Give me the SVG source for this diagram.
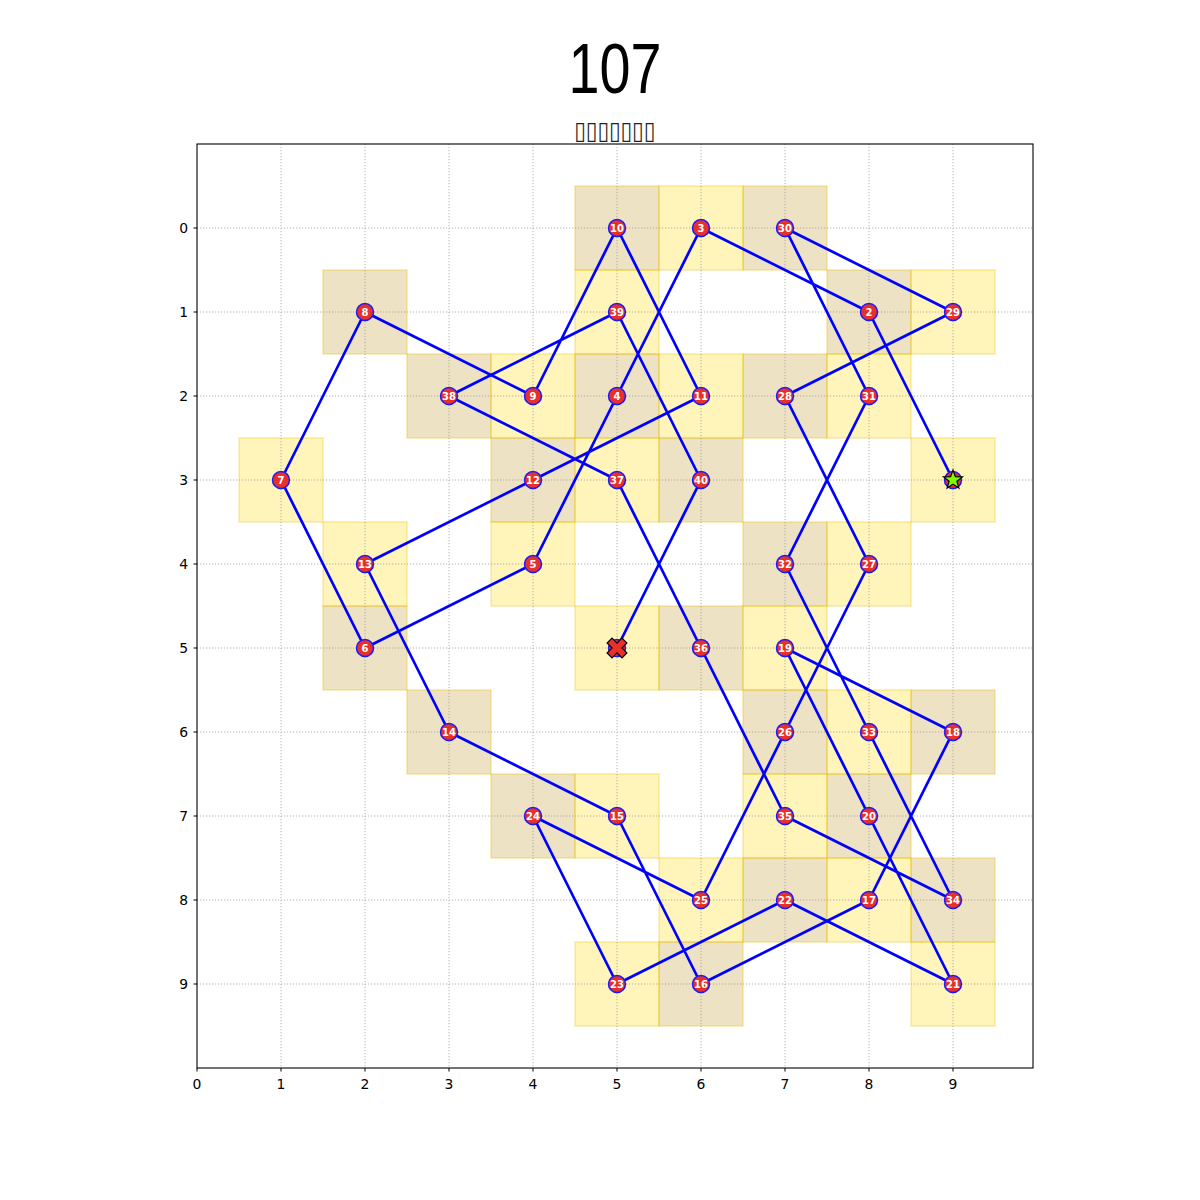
<svg xmlns="http://www.w3.org/2000/svg" width="1200" height="1200" viewBox="0 0 1200 1200">
<style>
.ey{fill:#FFD700;fill-opacity:0.27;stroke:#E8C000;stroke-opacity:0.3;stroke-width:1.5}
.od{fill:#B8860B;fill-opacity:0.24;stroke:#E8C000;stroke-opacity:0.35;stroke-width:1.5}
.grid line{stroke:#a0a0a0;stroke-width:0.8;stroke-dasharray:1.2,1.8}
.tick{stroke:#000;stroke-width:1}
.tl{font-family:"DejaVu Sans",sans-serif;font-size:13.9px;fill:#000}
.n circle{fill:#E8302A;stroke:#1a1aff;stroke-width:1.5}
.n text{font-family:"DejaVu Sans",sans-serif;font-weight:bold;font-size:10px;fill:#fff;text-anchor:middle}
.path{fill:none;stroke:#0000ff;stroke-width:2.7;stroke-linejoin:round}
</style>
<rect width="1200" height="1200" fill="#fff"/>
<text x="615" y="93" text-anchor="middle" font-family="'Liberation Sans Narrow','Liberation Sans',sans-serif" font-size="70" textLength="93" lengthAdjust="spacingAndGlyphs">107</text>
<text x="615" y="139" text-anchor="middle" font-family="'DejaVu Sans',sans-serif" font-size="25" fill="#222" textLength="81" lengthAdjust="spacingAndGlyphs">▯▯▯▯▯▯▯</text>
<g id="cells">
<rect class="od" x="575" y="186" width="84" height="84"/>
<rect class="ey" x="659" y="186" width="84" height="84"/>
<rect class="od" x="743" y="186" width="84" height="84"/>
<rect class="od" x="323" y="270" width="84" height="84"/>
<rect class="ey" x="575" y="270" width="84" height="84"/>
<rect class="od" x="827" y="270" width="84" height="84"/>
<rect class="ey" x="911" y="270" width="84" height="84"/>
<rect class="od" x="407" y="354" width="84" height="84"/>
<rect class="ey" x="491" y="354" width="84" height="84"/>
<rect class="od" x="575" y="354" width="84" height="84"/>
<rect class="ey" x="659" y="354" width="84" height="84"/>
<rect class="od" x="743" y="354" width="84" height="84"/>
<rect class="ey" x="827" y="354" width="84" height="84"/>
<rect class="ey" x="239" y="438" width="84" height="84"/>
<rect class="od" x="491" y="438" width="84" height="84"/>
<rect class="ey" x="575" y="438" width="84" height="84"/>
<rect class="od" x="659" y="438" width="84" height="84"/>
<rect class="ey" x="911" y="438" width="84" height="84"/>
<rect class="ey" x="323" y="522" width="84" height="84"/>
<rect class="ey" x="491" y="522" width="84" height="84"/>
<rect class="od" x="743" y="522" width="84" height="84"/>
<rect class="ey" x="827" y="522" width="84" height="84"/>
<rect class="od" x="323" y="606" width="84" height="84"/>
<rect class="ey" x="575" y="606" width="84" height="84"/>
<rect class="od" x="659" y="606" width="84" height="84"/>
<rect class="ey" x="743" y="606" width="84" height="84"/>
<rect class="od" x="407" y="690" width="84" height="84"/>
<rect class="od" x="743" y="690" width="84" height="84"/>
<rect class="ey" x="827" y="690" width="84" height="84"/>
<rect class="od" x="911" y="690" width="84" height="84"/>
<rect class="od" x="491" y="774" width="84" height="84"/>
<rect class="ey" x="575" y="774" width="84" height="84"/>
<rect class="ey" x="743" y="774" width="84" height="84"/>
<rect class="od" x="827" y="774" width="84" height="84"/>
<rect class="ey" x="659" y="858" width="84" height="84"/>
<rect class="od" x="743" y="858" width="84" height="84"/>
<rect class="ey" x="827" y="858" width="84" height="84"/>
<rect class="od" x="911" y="858" width="84" height="84"/>
<rect class="ey" x="575" y="942" width="84" height="84"/>
<rect class="od" x="659" y="942" width="84" height="84"/>
<rect class="ey" x="911" y="942" width="84" height="84"/>
</g>
<g class="grid">
<line x1="281" y1="144" x2="281" y2="1068"/><line x1="365" y1="144" x2="365" y2="1068"/><line x1="449" y1="144" x2="449" y2="1068"/><line x1="533" y1="144" x2="533" y2="1068"/><line x1="617" y1="144" x2="617" y2="1068"/><line x1="701" y1="144" x2="701" y2="1068"/><line x1="785" y1="144" x2="785" y2="1068"/><line x1="869" y1="144" x2="869" y2="1068"/><line x1="953" y1="144" x2="953" y2="1068"/>
<line x1="197" y1="228" x2="1033" y2="228"/><line x1="197" y1="312" x2="1033" y2="312"/><line x1="197" y1="396" x2="1033" y2="396"/><line x1="197" y1="480" x2="1033" y2="480"/><line x1="197" y1="564" x2="1033" y2="564"/><line x1="197" y1="648" x2="1033" y2="648"/><line x1="197" y1="732" x2="1033" y2="732"/><line x1="197" y1="816" x2="1033" y2="816"/><line x1="197" y1="900" x2="1033" y2="900"/><line x1="197" y1="984" x2="1033" y2="984"/>
</g>
<g id="connectors">
<polyline class="path" points="953,480 869,312 701,228 617,396 533,564 365,648 281,480 365,312 533,396 617,228 701,396 533,480 365,564 449,732 617,816 701,984 869,900 953,732 785,648 869,816 953,984 785,900 617,984 533,816 701,900 785,732 869,564 785,396 953,312 785,228 869,396 785,564 869,732 953,900 785,816 701,648 617,480 449,396 617,312 701,480 617,648"/>
</g>
<g id="nodes" class="n">
<g id="node1"><circle cx="953" cy="480" r="8.5"/><polygon points="953,470 955.4,476.7 962.5,476.9 956.9,481.3 958.9,488.1 953,484.1 947.1,488.1 949.1,481.3 943.5,476.9 950.6,476.7" fill="#7CFC00" stroke="#000" stroke-width="1.2" stroke-linejoin="miter"/></g>
<g id="node2"><circle cx="869" cy="312" r="8.5"/><text x="869" y="315.5">2</text></g>
<g id="node3"><circle cx="701" cy="228" r="8.5"/><text x="701" y="231.5">3</text></g>
<g id="node4"><circle cx="617" cy="396" r="8.5"/><text x="617" y="399.5">4</text></g>
<g id="node5"><circle cx="533" cy="564" r="8.5"/><text x="533" y="567.5">5</text></g>
<g id="node6"><circle cx="365" cy="648" r="8.5"/><text x="365" y="651.5">6</text></g>
<g id="node7"><circle cx="281" cy="480" r="8.5"/><text x="281" y="483.5">7</text></g>
<g id="node8"><circle cx="365" cy="312" r="8.5"/><text x="365" y="315.5">8</text></g>
<g id="node9"><circle cx="533" cy="396" r="8.5"/><text x="533" y="399.5">9</text></g>
<g id="node10"><circle cx="617" cy="228" r="8.5"/><text x="617" y="231.5">10</text></g>
<g id="node11"><circle cx="701" cy="396" r="8.5"/><text x="701" y="399.5">11</text></g>
<g id="node12"><circle cx="533" cy="480" r="8.5"/><text x="533" y="483.5">12</text></g>
<g id="node13"><circle cx="365" cy="564" r="8.5"/><text x="365" y="567.5">13</text></g>
<g id="node14"><circle cx="449" cy="732" r="8.5"/><text x="449" y="735.5">14</text></g>
<g id="node15"><circle cx="617" cy="816" r="8.5"/><text x="617" y="819.5">15</text></g>
<g id="node16"><circle cx="701" cy="984" r="8.5"/><text x="701" y="987.5">16</text></g>
<g id="node17"><circle cx="869" cy="900" r="8.5"/><text x="869" y="903.5">17</text></g>
<g id="node18"><circle cx="953" cy="732" r="8.5"/><text x="953" y="735.5">18</text></g>
<g id="node19"><circle cx="785" cy="648" r="8.5"/><text x="785" y="651.5">19</text></g>
<g id="node20"><circle cx="869" cy="816" r="8.5"/><text x="869" y="819.5">20</text></g>
<g id="node21"><circle cx="953" cy="984" r="8.5"/><text x="953" y="987.5">21</text></g>
<g id="node22"><circle cx="785" cy="900" r="8.5"/><text x="785" y="903.5">22</text></g>
<g id="node23"><circle cx="617" cy="984" r="8.5"/><text x="617" y="987.5">23</text></g>
<g id="node24"><circle cx="533" cy="816" r="8.5"/><text x="533" y="819.5">24</text></g>
<g id="node25"><circle cx="701" cy="900" r="8.5"/><text x="701" y="903.5">25</text></g>
<g id="node26"><circle cx="785" cy="732" r="8.5"/><text x="785" y="735.5">26</text></g>
<g id="node27"><circle cx="869" cy="564" r="8.5"/><text x="869" y="567.5">27</text></g>
<g id="node28"><circle cx="785" cy="396" r="8.5"/><text x="785" y="399.5">28</text></g>
<g id="node29"><circle cx="953" cy="312" r="8.5"/><text x="953" y="315.5">29</text></g>
<g id="node30"><circle cx="785" cy="228" r="8.5"/><text x="785" y="231.5">30</text></g>
<g id="node31"><circle cx="869" cy="396" r="8.5"/><text x="869" y="399.5">31</text></g>
<g id="node32"><circle cx="785" cy="564" r="8.5"/><text x="785" y="567.5">32</text></g>
<g id="node33"><circle cx="869" cy="732" r="8.5"/><text x="869" y="735.5">33</text></g>
<g id="node34"><circle cx="953" cy="900" r="8.5"/><text x="953" y="903.5">34</text></g>
<g id="node35"><circle cx="785" cy="816" r="8.5"/><text x="785" y="819.5">35</text></g>
<g id="node36"><circle cx="701" cy="648" r="8.5"/><text x="701" y="651.5">36</text></g>
<g id="node37"><circle cx="617" cy="480" r="8.5"/><text x="617" y="483.5">37</text></g>
<g id="node38"><circle cx="449" cy="396" r="8.5"/><text x="449" y="399.5">38</text></g>
<g id="node39"><circle cx="617" cy="312" r="8.5"/><text x="617" y="315.5">39</text></g>
<g id="node40"><circle cx="701" cy="480" r="8.5"/><text x="701" y="483.5">40</text></g>
<g id="node41"><circle cx="617" cy="648" r="8.5"/><polygon transform="translate(617,648) rotate(45)" points="-3.5,-10.5 3.5,-10.5 3.5,-3.5 10.5,-3.5 10.5,3.5 3.5,3.5 3.5,10.5 -3.5,10.5 -3.5,3.5 -10.5,3.5 -10.5,-3.5 -3.5,-3.5" fill="#E8302A" stroke="#000" stroke-width="1.2"/></g>
</g>
<g id="axes">
<rect x="197" y="144" width="836" height="924" fill="none" stroke="#000" stroke-width="1.1"/>
<g class="tick">
<line x1="193.5" y1="228" x2="197" y2="228"/><line x1="193.5" y1="312" x2="197" y2="312"/><line x1="193.5" y1="396" x2="197" y2="396"/><line x1="193.5" y1="480" x2="197" y2="480"/><line x1="193.5" y1="564" x2="197" y2="564"/><line x1="193.5" y1="648" x2="197" y2="648"/><line x1="193.5" y1="732" x2="197" y2="732"/><line x1="193.5" y1="816" x2="197" y2="816"/><line x1="193.5" y1="900" x2="197" y2="900"/><line x1="193.5" y1="984" x2="197" y2="984"/>
<line x1="197" y1="1068" x2="197" y2="1071.5"/><line x1="281" y1="1068" x2="281" y2="1071.5"/><line x1="365" y1="1068" x2="365" y2="1071.5"/><line x1="449" y1="1068" x2="449" y2="1071.5"/><line x1="533" y1="1068" x2="533" y2="1071.5"/><line x1="617" y1="1068" x2="617" y2="1071.5"/><line x1="701" y1="1068" x2="701" y2="1071.5"/><line x1="785" y1="1068" x2="785" y2="1071.5"/><line x1="869" y1="1068" x2="869" y2="1071.5"/><line x1="953" y1="1068" x2="953" y2="1071.5"/>
</g>
<g class="tl" text-anchor="end">
<text x="188" y="233">0</text><text x="188" y="317">1</text><text x="188" y="401">2</text><text x="188" y="485">3</text><text x="188" y="569">4</text><text x="188" y="653">5</text><text x="188" y="737">6</text><text x="188" y="821">7</text><text x="188" y="905">8</text><text x="188" y="989">9</text>
</g>
<g class="tl" text-anchor="middle">
<text x="197" y="1089">0</text><text x="281" y="1089">1</text><text x="365" y="1089">2</text><text x="449" y="1089">3</text><text x="533" y="1089">4</text><text x="617" y="1089">5</text><text x="701" y="1089">6</text><text x="785" y="1089">7</text><text x="869" y="1089">8</text><text x="953" y="1089">9</text>
</g>
</g>
</svg>
